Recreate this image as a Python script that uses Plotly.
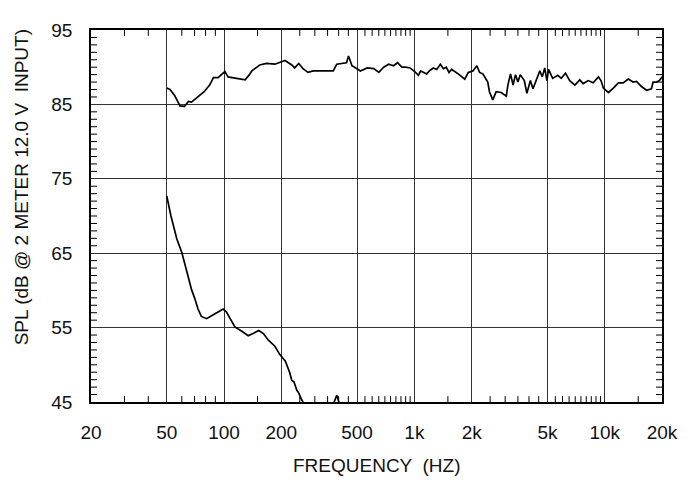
import plotly.graph_objects as go

# Upper curve: on-axis SPL response
hi_freq = [50, 52, 55, 58.7, 62, 65, 67.5, 72, 78.6, 84, 88, 93, 101, 105, 115, 129, 135, 140, 154, 167, 185, 200,
           209, 227, 235, 247, 260, 276, 294, 330, 360, 375, 391, 424, 440, 451, 470, 500, 520, 565, 612, 650, 690,
           733, 778, 816, 860, 900, 948, 1005, 1050, 1080, 1160, 1210, 1260, 1310, 1370, 1420, 1470, 1520, 1570,
           1700, 1840, 1920, 2030, 2130, 2200, 2290, 2430, 2480, 2580, 2690, 2860, 3040, 3100, 3200, 3300, 3400,
           3500, 3600, 3780, 3900, 4070, 4200, 4380, 4560, 4700, 4840, 4970, 5070, 5330, 5670, 5910, 6220, 6550,
           6970, 7400, 7700, 8200, 8700, 9270, 9560, 9840, 10460, 11100, 11800, 12500, 13300, 14100, 14700, 15600,
           16600, 17600, 17950, 18700, 19400, 20000]
hi_spl = [87.2, 87.0, 86.2, 84.8, 84.75, 85.4, 85.3, 85.9, 86.7, 87.6, 88.6, 88.6, 89.4, 88.7, 88.5, 88.3, 88.9, 89.5,
          90.3, 90.5, 90.4, 90.7, 90.9, 90.3, 89.9, 90.5, 89.8, 89.3, 89.5, 89.5, 89.5, 89.5, 90.4, 90.5, 90.6, 91.5,
          90.2, 89.8, 89.5, 89.9, 89.8, 89.3, 90.0, 90.4, 90.2, 90.6, 90.0, 90.0, 89.9, 89.4, 88.9, 89.5, 89.1, 89.6,
          89.9, 89.7, 90.4, 89.8, 90.0, 89.3, 89.7, 89.1, 88.4, 89.3, 89.5, 90.2, 89.3, 89.1, 88.0, 86.7, 85.6, 86.7,
          86.6, 86.1, 87.6, 89.1, 87.6, 89.0, 88.0, 89.0, 88.2, 86.5, 88.2, 87.1, 88.2, 89.5, 88.7, 89.9, 88.2, 89.7,
          88.5, 88.9, 88.5, 89.2, 88.2, 87.6, 88.3, 87.8, 88.2, 87.9, 88.7, 88.2, 87.2, 86.6, 87.2, 87.9, 87.9, 88.4,
          88.0, 88.1, 87.4, 86.9, 87.1, 88.0, 88.0, 88.2, 88.7]

# Lower curve: low-frequency response
lo_freq = [50, 52.5, 56.5, 60, 63.5, 67.5, 70, 73, 76, 81, 86, 91.5, 99, 103, 108, 114, 124, 134, 142, 152, 161, 171,
           185, 196, 210, 221, 227, 233, 241, 247, 256, 261, 280, 320, 370, 385, 391, 398, 410, 450]
lo_spl = [72.7, 70.1, 66.9, 65.1, 62.7, 60.1, 59.0, 57.5, 56.5, 56.2, 56.6, 57.0, 57.5, 57.1, 56.2, 55.1, 54.5, 53.9,
          54.2, 54.6, 54.2, 53.3, 52.5, 51.4, 50.5, 49.0, 47.9, 47.7, 46.6, 46.2, 45.3, 44.9, 44.0, 43.5, 44.3, 45.5,
          45.9, 45.3, 44.0, 43.0]

x_tick_vals = [20, 50, 100, 200, 500, 1000, 2000, 5000, 10000, 20000]
x_tick_text = ["20", "50", "100", "200", "500", "1k", "2k", "5k", "10k", "20k"]
x_minor_vals = [30, 40, 60, 70, 80, 90, 150, 250, 300, 350, 400, 450, 550, 600, 650, 700, 750, 800, 850, 900, 950,
                1500, 2500, 3000, 3500, 4000, 4500, 5500, 6000, 6500, 7000, 7500, 8000, 8500, 9000, 9500, 15000]
y_tick_vals = [45, 55, 65, 75, 85, 95]
y_minor_vals = [v for v in range(46, 95) if v not in y_tick_vals]

FONT = "Liberation Sans, Arial, sans-serif"
X_RANGE = [1.30103, 4.30103]
Y_RANGE = [45, 95]
TICK_X_FRAC = 6 / 571   # inside tick length as a fraction of plot width
TICK_Y_FRAC = 6 / 382   # inside tick length as a fraction of plot height

fig = go.Figure()
fig.add_trace(go.Scatter(x=hi_freq, y=hi_spl, mode="lines", line=dict(color="black", width=1.7),
                         showlegend=False))
fig.add_trace(go.Scatter(x=lo_freq, y=lo_spl, mode="lines", line=dict(color="black", width=1.7),
                         showlegend=False))

# Inside minor tick marks on all four sides, positioned by the axis scales
tick_line = dict(color="black", width=1)
for v in x_minor_vals:
    fig.add_shape(type="line", xref="x", yref="paper", x0=v, x1=v, y0=0, y1=TICK_Y_FRAC, line=tick_line)
    fig.add_shape(type="line", xref="x", yref="paper", x0=v, x1=v, y0=1 - TICK_Y_FRAC, y1=1, line=tick_line)
for v in y_minor_vals:
    fig.add_shape(type="line", xref="paper", yref="y", x0=0, x1=TICK_X_FRAC, y0=v, y1=v, line=tick_line)
    fig.add_shape(type="line", xref="paper", yref="y", x0=1 - TICK_X_FRAC, x1=1, y0=v, y1=v, line=tick_line)

fig.update_layout(
    width=690, height=490,
    margin=dict(l=83, r=36, t=12, b=96),
    paper_bgcolor="white", plot_bgcolor="white",
    font=dict(family=FONT, color="#111", size=19),
    xaxis=dict(
        type="log", range=X_RANGE,
        tickmode="array", tickvals=x_tick_vals, ticktext=x_tick_text,
        ticks="", showgrid=True, gridcolor="#333", gridwidth=1.4,
        showline=True, linecolor="black", linewidth=1.5, mirror=True,
        ticklabelstandoff=12, tickfont=dict(size=19), zeroline=False,
    ),
    yaxis=dict(
        range=Y_RANGE, tickmode="array", tickvals=y_tick_vals,
        ticks="", showgrid=True, gridcolor="#333", gridwidth=1.4,
        showline=True, linecolor="black", linewidth=1.5, mirror=True,
        ticklabelstandoff=13, tickfont=dict(size=19), zeroline=False,
    ),
    annotations=[
        dict(text="SPL (dB @ 2 METER 12.0 V  INPUT)", textangle=-90, xref="paper", yref="paper",
             x=-0.1226, y=0.577, xanchor="center", yanchor="middle", showarrow=False,
             font=dict(family=FONT, size=19, color="#111")),
        dict(text="FREQUENCY  (HZ)", xref="paper", yref="paper",
             x=0.5, y=-0.170, xanchor="center", yanchor="middle", showarrow=False,
             font=dict(family=FONT, size=19, color="#111")),
    ],
)

fig.write_html("out.html")
